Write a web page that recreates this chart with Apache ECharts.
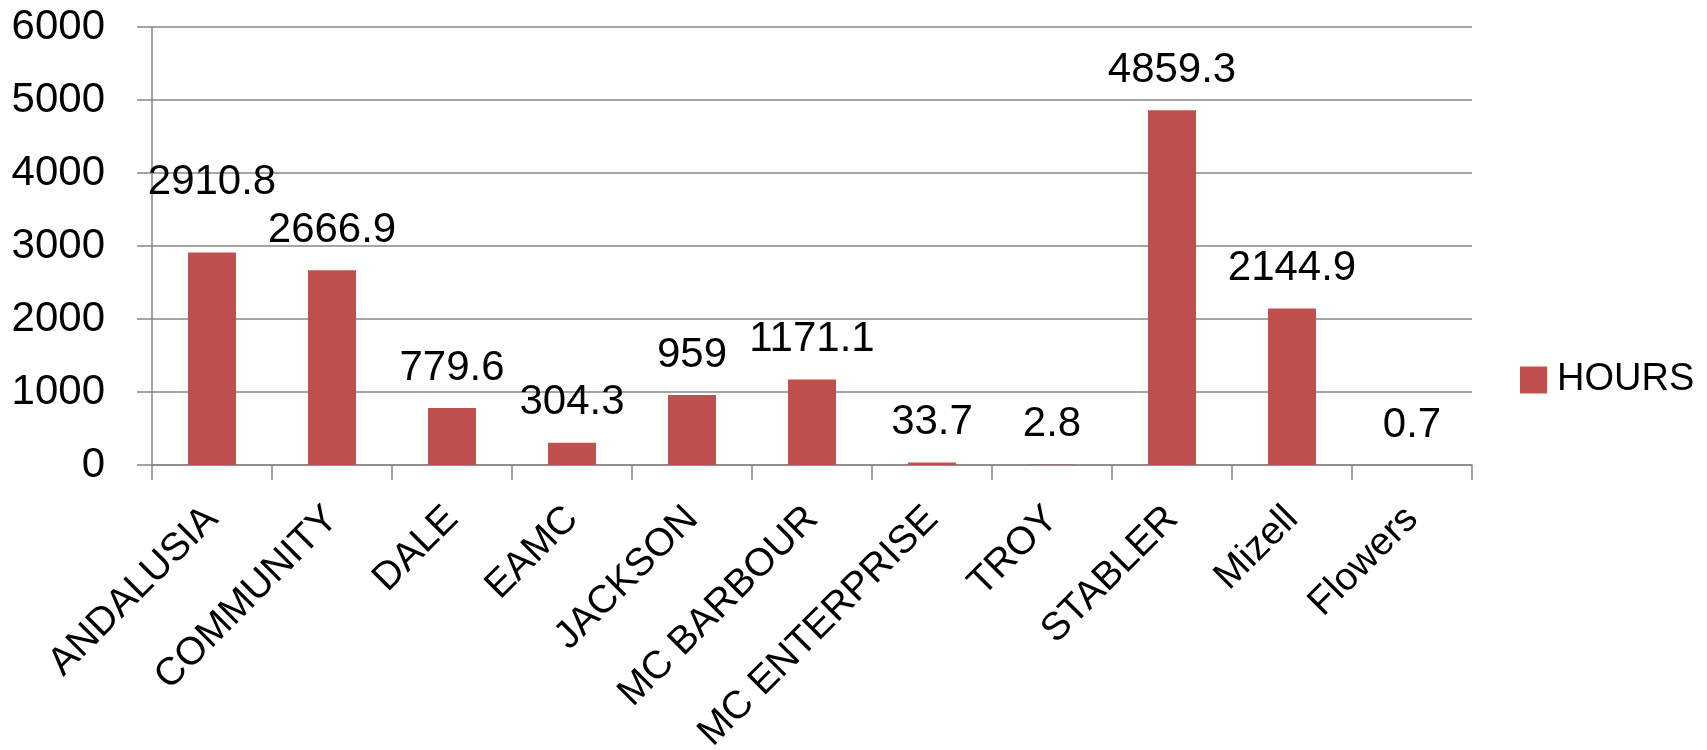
<!DOCTYPE html>
<html>
<head>
<meta charset="utf-8">
<script src="https://cdn.jsdelivr.net/npm/echarts@6/dist/echarts.min.js"></script>
<style>
html,body{margin:0;padding:0;background:#fff;}
#c{width:1707px;height:750px;}
</style>
</head>
<body>
<div id="c"></div>
<script>
const categories = ['ANDALUSIA','COMMUNITY','DALE','EAMC','JACKSON','MC BARBOUR','MC ENTERPRISE','TROY','STABLER','Mizell','Flowers'];
const hours = [2910.8, 2666.9, 779.6, 304.3, 959, 1171.1, 33.7, 2.8, 4859.3, 2144.9, 0.7];
const seriesName = 'HOURS';
const yTicks = [0, 1000, 2000, 3000, 4000, 5000, 6000];

const FONT = '"Liberation Sans", Arial, sans-serif';
const chart = echarts.init(document.getElementById('c'), null, {renderer: 'canvas'});

// the first data label sits higher than the others in the original
const barData = hours.map((v, i) => i === 0 ? {value: v, label: {offset: [0, -30]}} : v);

chart.setOption({
  animation: false,
  backgroundColor: '#ffffff',
  grid: {left: 152, right: 235, top: 27, bottom: 285, containLabel: false, outerBoundsMode: 'none'},
  legend: {
    data: [seriesName],
    left: 1515, top: 356,
    orient: 'vertical',
    icon: 'rect', itemWidth: 27, itemHeight: 27, itemGap: 10,
    textStyle: {fontFamily: FONT, fontSize: 38, color: '#000', padding: [0,0,0,5]}
  },
  xAxis: {
    type: 'category',
    data: categories,
    axisLine: {show: true, lineStyle: {color: '#868686', width: 1.5}},
    axisTick: {show: true, alignWithLabel: false, length: 15, lineStyle: {color: '#868686', width: 1.5}},
    axisLabel: {rotate: 45, margin: 48, fontFamily: FONT, fontSize: 39, color: '#000', interval: 0, hideOverlap: false}
  },
  yAxis: {
    type: 'value',
    min: yTicks[0], max: yTicks[yTicks.length-1], interval: 1000,
    axisLine: {show: true, lineStyle: {color: '#868686', width: 1.5}},
    axisTick: {show: true, length: 15, lineStyle: {color: '#868686', width: 1.5}},
    splitLine: {show: true, lineStyle: {color: '#868686', width: 1.5}},
    axisLabel: {margin: 47, fontFamily: FONT, fontSize: 42, color: '#000', formatter: v => String(v)}
  },
  series: [{
    name: seriesName,
    type: 'bar',
    data: barData,
    barWidth: '40%',
    itemStyle: {color: '#C0504D'},
    label: {
      show: true, position: 'top', distance: 19,
      fontFamily: FONT, fontSize: 42, lineHeight: 42, color: '#000',
      formatter: p => String(p.value)
    }
  }]
});
</script>
</body>
</html>
